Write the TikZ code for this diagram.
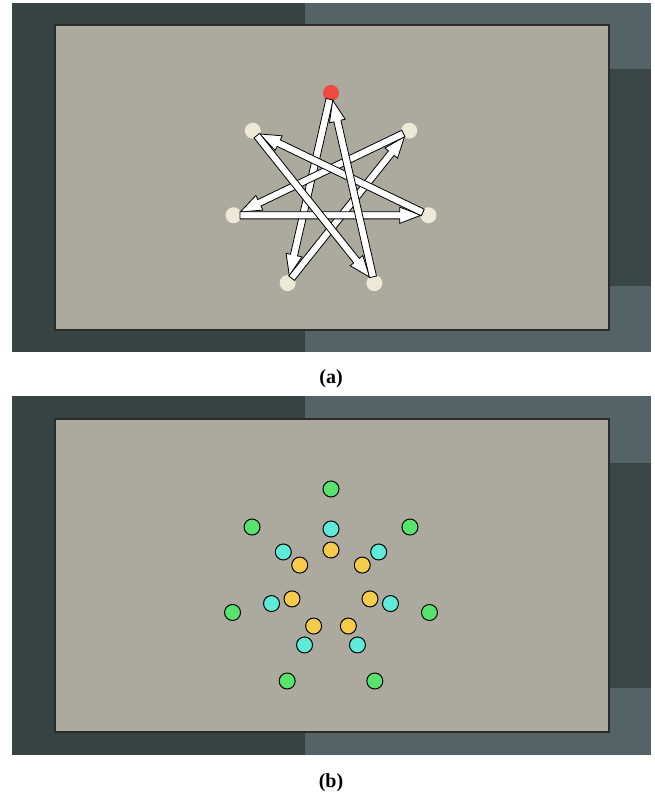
\documentclass[tikz,border=0pt]{standalone}
\usepackage{fontspec}
\setmainfont{Liberation Serif}
\usetikzlibrary{calc, shapes.arrows}

\definecolor{framedark}{HTML}{384343}
\definecolor{framelight}{HTML}{546466}
\definecolor{framepatch}{HTML}{3A4646}
\definecolor{granite}{HTML}{ACA99F}
\definecolor{graniteedge}{HTML}{2B2B27}
\definecolor{spotcream}{HTML}{ECE9D7}
\definecolor{spotred}{HTML}{EF4A42}
\definecolor{ballgreen}{HTML}{58E36C}
\definecolor{ballcyan}{HTML}{5EEBDA}
\definecolor{ballyellow}{HTML}{F6CB4C}

\begin{document}
\begin{tikzpicture}[x=1pt, y=1pt,
    spot/.style={circle, fill=spotcream, minimum size=16pt, inner sep=0pt},
    ball/.style={circle, draw=black, line width=1pt, minimum size=16pt, inner sep=0pt},
    blockarrow/.style={single arrow, draw=black, fill=white, line width=0.8pt,
        minimum width=15pt, inner sep=3.2pt, single arrow head extend=4.5pt,
        single arrow tip angle=42},
    caption/.style={font=\fontsize{20}{22}\selectfont\bfseries}]

    \useasboundingbox (0,0) rectangle (655,-796);

    % Panel (a): marco, tablero y estrella de siete puntas
    \fill[framedark] (12,-3) rectangle (305,-352);
    \fill[framelight] (305,-3) rectangle (651,-352);
    \fill[framepatch] (609,-69) rectangle (651,-286);
    \filldraw[fill=granite, draw=graniteedge, line width=1.5pt] (55,-25) rectangle (609,-330);

    \coordinate (ca) at (331,-193);
    \node[spot, fill=spotred] (a0) at ($(ca)+(90:100pt)$) {};
    \foreach \i in {1,...,6}
        \node[spot] (a\i) at ($(ca)+({90-\i*360/7}:100pt)$) {};

    % Recorrido cerrado: cada flecha salta tres vertices
    \foreach \s/\t in {a0/a4, a4/a1, a1/a5, a5/a2, a2/a6, a6/a3, a3/a0}
        \path let \p1=($(\t)-(\s)$), \n1={veclen(\x1,\y1)-14pt}, \n2={atan2(\y1,\x1)} in
            node[blockarrow, minimum height=\n1, rotate=\n2, anchor=tail] at ($(\s)!6pt!(\t)$) {};

    \node[caption] (capa) at (331,-379) {(a)};

    % Panel (b): mismo tablero con tres anillos de bolas
    \fill[framedark] (12,-396) rectangle (305,-755);
    \fill[framelight] (305,-396) rectangle (651,-755);
    \fill[framepatch] (609,-463) rectangle (651,-688);
    \filldraw[fill=granite, draw=graniteedge, line width=1.5pt] (55,-419) rectangle (609,-732);

    \coordinate (cb) at (331,-590);
    \foreach \i in {0,...,6} {
        \node[ball, fill=ballgreen] (g\i) at ($(cb)+({90-\i*360/7}:101pt)$) {};
        \node[ball, fill=ballcyan] (c\i) at ($(cb)+({90-\i*360/7}:61pt)$) {};
        \node[ball, fill=ballyellow] (y\i) at ($(cb)+({90-\i*360/7}:40pt)$) {};
    }

    \node[caption] (capb) at (331,-783) {(b)};
\end{tikzpicture}
\end{document}
